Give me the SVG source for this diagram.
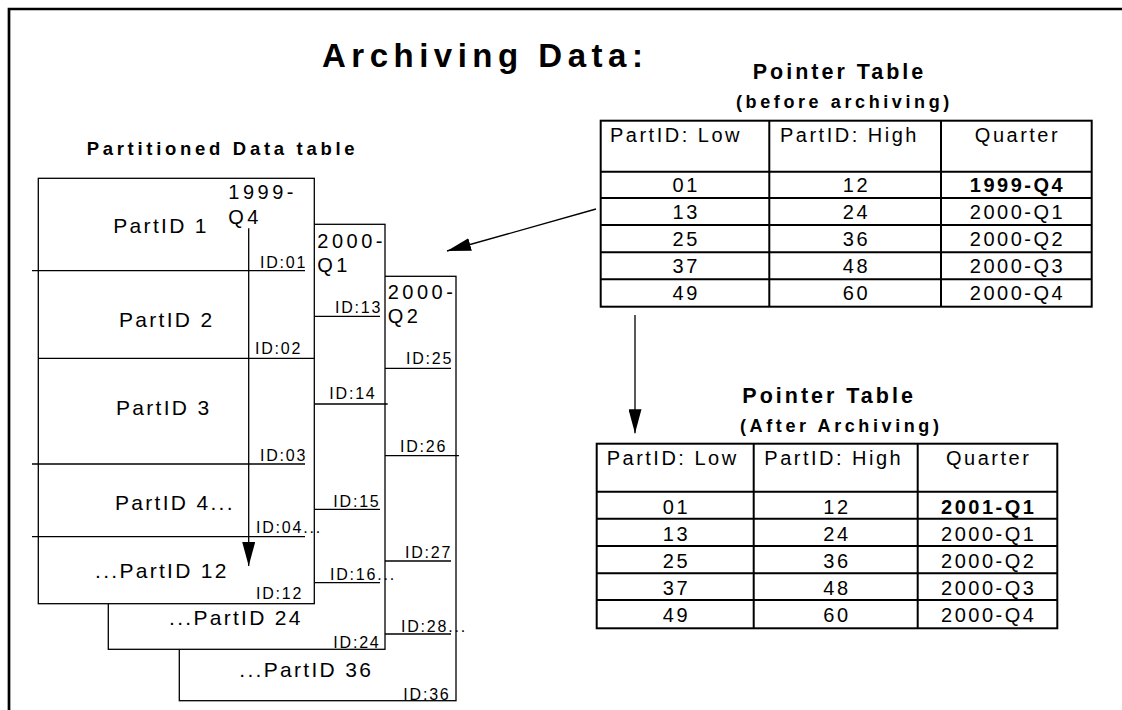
<svg xmlns="http://www.w3.org/2000/svg" width="1122" height="710" viewBox="0 0 1122 710">
<defs>
<style>
text { font-family: "Liberation Sans", Arial, Helvetica, sans-serif; fill: #000; }
.title { font-size: 33px; font-weight: bold; letter-spacing: 5.5px; }
.sub { font-size: 18.5px; font-weight: bold; letter-spacing: 3.7px; }
.ptitle { font-size: 21.5px; font-weight: bold; letter-spacing: 3px; }
.pnote { font-size: 18px; font-weight: bold; letter-spacing: 3.6px; }
.part { font-size: 21px; letter-spacing: 2.3px; }
.qtr { font-size: 20px; letter-spacing: 3.5px; }
.id { font-size: 16px; letter-spacing: 1.8px; }
.cell { font-size: 20px; letter-spacing: 2.5px; text-anchor: middle; }
.hdr { font-size: 20px; letter-spacing: 2.5px; }
.b { font-weight: bold; }
.box { fill: #fff; stroke: #000; stroke-width: 1.3; }
.rule { stroke: #000; stroke-width: 1.3; fill: none; }
.grid { stroke: #000; stroke-width: 2; fill: none; }
.frame { stroke: #000; stroke-width: 2.7; fill: none; }
.conn { stroke: #000; stroke-width: 1.3; fill: none; marker-end: url(#head); }
</style>
<marker id="head" viewBox="0 0 24 13" refX="24" refY="6.5" markerWidth="24" markerHeight="13" markerUnits="userSpaceOnUse" orient="auto">
<path d="M0,0 L24,6.5 L0,13 z" fill="#000"/>
</marker>
</defs>

<!-- page frame: top and left rules only -->
<path class="frame" d="M9,710 L9,9 L1122,9"/>

<g id="title">
<text class="title" x="322" y="66.7">Archiving Data:</text>
</g>

<!-- stacked partitioned tables, drawn back to front -->
<g id="partition-2000-q2">
<rect class="box" x="179.3" y="276.3" width="276.7" height="424.4"/>
<text class="qtr" x="387.7" y="299.3">2000-</text>
<text class="qtr" x="387.7" y="323.3">Q2</text>
<line class="rule" x1="385" y1="368.3" x2="451" y2="368.3"/>
<line class="rule" x1="385" y1="455.7" x2="459" y2="455.7"/>
<line class="rule" x1="385" y1="561" x2="451" y2="561"/>
<line class="rule" x1="385" y1="634" x2="451" y2="634"/>
<text class="id" x="406" y="364">ID:25</text>
<text class="id" x="400" y="451.7">ID:26</text>
<text class="id" x="405" y="558.3">ID:27</text>
<text class="id" x="401" y="631.7">ID:28...</text>
<text class="part" x="239.3" y="676.7">...PartID 36</text>
<text class="id" x="403.3" y="700">ID:36</text>
</g>

<g id="partition-2000-q1">
<rect class="box" x="108.3" y="224.3" width="276.7" height="425"/>
<text class="qtr" x="317.3" y="248.3">2000-</text>
<text class="qtr" x="317.3" y="271.7">Q1</text>
<line class="rule" x1="315" y1="316.3" x2="380" y2="316.3"/>
<line class="rule" x1="315" y1="404" x2="387.7" y2="404"/>
<line class="rule" x1="315" y1="509.3" x2="380" y2="509.3"/>
<line class="rule" x1="315" y1="582.7" x2="380" y2="582.7"/>
<text class="id" x="335" y="313.3">ID:13</text>
<text class="id" x="329.3" y="399.3">ID:14</text>
<text class="id" x="333.3" y="506.7">ID:15</text>
<text class="id" x="330" y="580">ID:16...</text>
<text class="part" x="169" y="625">...PartID 24</text>
<text class="id" x="333.3" y="648.3">ID:24</text>
</g>

<g id="partition-1999-q4">
<rect class="box" x="38.3" y="178.3" width="276" height="425.4"/>
<text class="qtr" x="228.3" y="199.3">1999-</text>
<text class="qtr" x="228.3" y="224.3">Q4</text>
<line class="rule" x1="32" y1="270.7" x2="305" y2="270.7"/>
<line class="rule" x1="38.3" y1="358.3" x2="314.3" y2="358.3"/>
<line class="rule" x1="32" y1="464" x2="305" y2="464"/>
<line class="rule" x1="32" y1="536.7" x2="305" y2="536.7"/>
<text class="part" x="113.3" y="233.3">PartID 1</text>
<text class="part" x="119" y="326.7">PartID 2</text>
<text class="part" x="116" y="415">PartID 3</text>
<text class="part" x="115" y="510">PartID 4...</text>
<text class="part" x="95" y="578.3">...PartID 12</text>
<text class="id" x="260" y="268.3">ID:01</text>
<text class="id" x="255" y="354">ID:02</text>
<text class="id" x="260" y="460.7">ID:03</text>
<text class="id" x="256" y="533.3">ID:04...</text>
<text class="id" x="256" y="599.3">ID:12</text>
</g>

<g id="partitioned-label">
<text class="sub" x="86.7" y="155">Partitioned Data table</text>
</g>

<!-- pointer table before archiving -->
<g id="pointer-before">
<text class="ptitle" x="752.7" y="79">Pointer Table</text>
<text class="pnote" x="736" y="107.5">(before archiving)</text>
<rect class="grid" x="600.7" y="120.7" width="491" height="186"/>
<path class="grid" d="M769.3,120.7 V306.7 M941,120.7 V306.7 M600.7,171.7 H1091.7 M600.7,198 H1091.7 M600.7,225 H1091.7 M600.7,252.3 H1091.7 M600.7,279.3 H1091.7"/>
<text class="hdr" x="610" y="141.7">PartID: Low</text>
<text class="hdr" x="780" y="141.7">PartID: High</text>
<text class="cell" x="1017.5" y="141.7">Quarter</text>
<text class="cell" x="686.2" y="192">01</text>
<text class="cell" x="856.4" y="192">12</text>
<text class="cell b" x="1017.5" y="192">1999-Q4</text>
<text class="cell" x="686.2" y="219">13</text>
<text class="cell" x="856.4" y="219">24</text>
<text class="cell" x="1017.5" y="219">2000-Q1</text>
<text class="cell" x="686.2" y="246">25</text>
<text class="cell" x="856.4" y="246">36</text>
<text class="cell" x="1017.5" y="246">2000-Q2</text>
<text class="cell" x="686.2" y="273">37</text>
<text class="cell" x="856.4" y="273">48</text>
<text class="cell" x="1017.5" y="273">2000-Q3</text>
<text class="cell" x="686.2" y="300">49</text>
<text class="cell" x="856.4" y="300">60</text>
<text class="cell" x="1017.5" y="300">2000-Q4</text>
</g>

<!-- pointer table after archiving -->
<g id="pointer-after">
<text class="ptitle" x="742.3" y="403.3">Pointer Table</text>
<text class="pnote" x="740" y="431.7">(After Archiving)</text>
<rect class="grid" x="596.7" y="443.7" width="460.6" height="184.6"/>
<path class="grid" d="M753.7,443.7 V628.3 M917.7,443.7 V628.3 M596.7,491.7 H1057.3 M596.7,518.7 H1057.3 M596.7,546 H1057.3 M596.7,573.3 H1057.3 M596.7,600 H1057.3"/>
<text class="hdr" x="606.7" y="465">PartID: Low</text>
<text class="hdr" x="764.3" y="465">PartID: High</text>
<text class="cell" x="988.7" y="465">Quarter</text>
<text class="cell" x="676.4" y="513.5">01</text>
<text class="cell" x="836.9" y="513.5">12</text>
<text class="cell b" x="988.7" y="513.5">2001-Q1</text>
<text class="cell" x="676.4" y="540.5">13</text>
<text class="cell" x="836.9" y="540.5">24</text>
<text class="cell" x="988.7" y="540.5">2000-Q1</text>
<text class="cell" x="676.4" y="567.5">25</text>
<text class="cell" x="836.9" y="567.5">36</text>
<text class="cell" x="988.7" y="567.5">2000-Q2</text>
<text class="cell" x="676.4" y="594.5">37</text>
<text class="cell" x="836.9" y="594.5">48</text>
<text class="cell" x="988.7" y="594.5">2000-Q3</text>
<text class="cell" x="676.4" y="621.5">49</text>
<text class="cell" x="836.9" y="621.5">60</text>
<text class="cell" x="988.7" y="621.5">2000-Q4</text>
</g>

<!-- connectors -->
<g id="connectors">
<line class="conn" x1="596" y1="209" x2="447" y2="251"/>
<line class="conn" x1="635" y1="315" x2="635" y2="433.3"/>
<line class="conn" x1="248.7" y1="228.3" x2="248.7" y2="566"/>
</g>
</svg>
